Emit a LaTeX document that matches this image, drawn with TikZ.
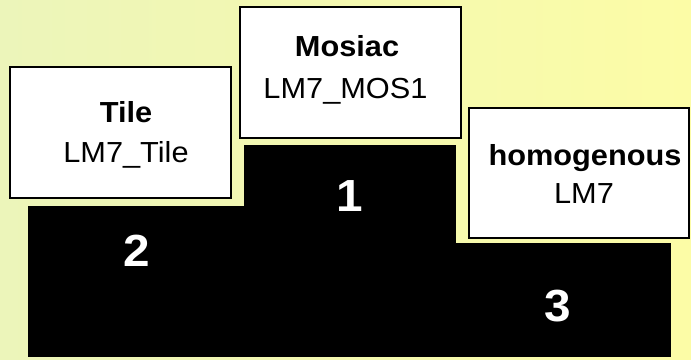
\documentclass[tikz,border=0pt]{standalone}
\usepackage{fontspec}
\setmainfont{Liberation Sans}[FakeStretch=1.06]
\definecolor{bgleft}{RGB}{236,245,186}
\definecolor{bgright}{RGB}{252,252,166}
\begin{document}
\begin{tikzpicture}[x=1pt,y=-1pt,
  labelbox/.style={draw=black, line width=1.6pt, fill=white, inner sep=0pt, outer sep=0pt, anchor=north west},
  podium/.style={fill=black, draw=none, inner sep=0pt, outer sep=0pt, anchor=north west},
  titletext/.style={font=\fontsize{29}{31}\selectfont\bfseries, anchor=base, inner sep=0pt},
  subtext/.style={font=\fontsize{29}{31}\selectfont, anchor=base, inner sep=0pt},
  ranktext/.style={font=\fontsize{45}{47}\selectfont\bfseries, text=white, anchor=base, inner sep=0pt}]
\shade[left color=bgleft, right color=bgright] (0,0) rectangle (691,359);
\useasboundingbox (0,0) rectangle (691,359);
% podium blocks
\node[podium, minimum width=216pt, minimum height=151pt] (p2) at (28,206) {};
\node[podium, minimum width=212pt, minimum height=212pt] (p1) at (244,145) {};
\node[podium, minimum width=215pt, minimum height=114pt] (p3) at (456,243) {};
% label boxes
\node[labelbox, minimum width=221pt, minimum height=131pt] (tilebox) at (10,67) {};
\node[labelbox, minimum width=221pt, minimum height=131pt] (mosbox) at (240,7) {};
\node[labelbox, minimum width=220pt, minimum height=130pt] (homobox) at (469,108) {};
% texts
\node[titletext] (tiletitle) at (126,122.5) {Tile};
\node[subtext] (tilesub) at (126,162.5) {LM7\_Tile};
\node[titletext] (mostitle) at (347,56) {Mosiac};
\node[subtext] (mossub) at (345.5,98.5) {LM7\_MOS1};
\node[titletext] (homotitle) at (585,165) {homogenous};
\node[subtext] (homosub) at (584,203.5) {LM7};
% ranks
\node[ranktext] (r1) at (350,211) {1};
\node[ranktext] (r2) at (137,266) {2};
\node[ranktext] (r3) at (558,321.7) {3};
\end{tikzpicture}
\end{document}
